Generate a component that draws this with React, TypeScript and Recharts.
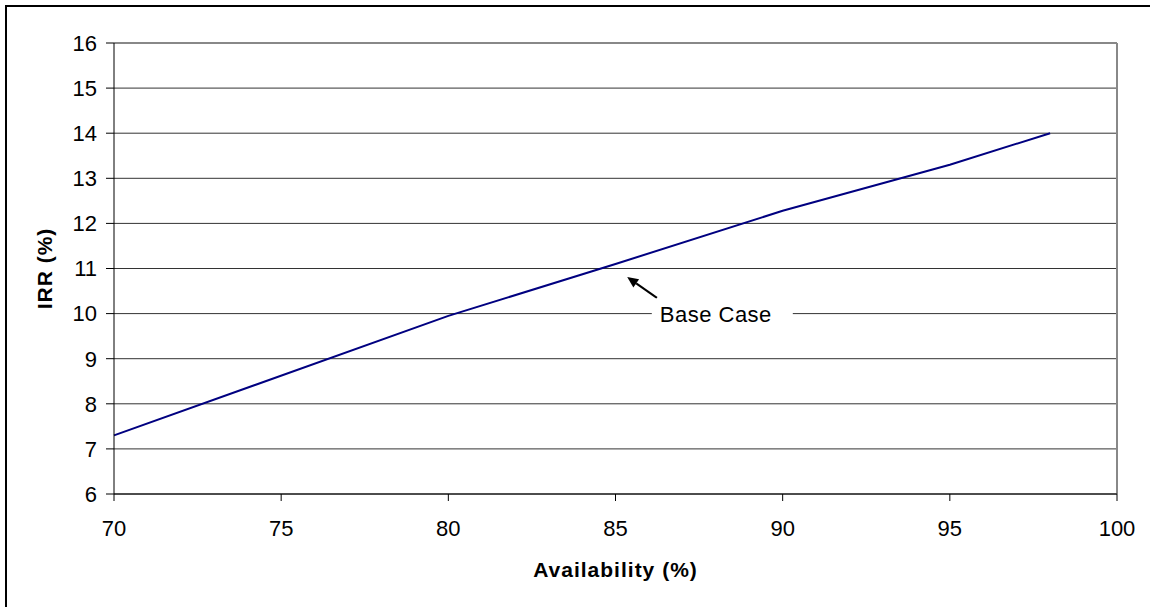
import { LineChart, Line, XAxis, YAxis, CartesianGrid, ReferenceLine, ReferenceDot, Label } from 'recharts'

const availability = [70, 80, 85, 90, 95, 98]
const irr = [7.3, 9.95, 11.1, 12.28, 13.3, 14.0]
const xTicks = [70, 75, 80, 85, 90, 95, 100]
const yTicks = [6, 7, 8, 9, 10, 11, 12, 13, 14, 15, 16]

// annotation: arrow from the label to the base case point
const arrowFrom = { x: 86.24, y: 10.35 }
const arrowTo = { x: 85.35, y: 10.81 }
const baseCaseLabel = { x: 88, y: 10, text: 'Base Case' }

const data = availability.map((a, i) => ({ availability: a, irr: irr[i] }))

const FONT = 'Arial, "Liberation Sans", sans-serif'

const Arrow = (props: any) => {
  const { x1, y1, x2, y2 } = props
  const ang = Math.atan2(y2 - y1, x2 - x1)
  const len = 11
  const w = 5
  const bx = x2 - len * Math.cos(ang)
  const by = y2 - len * Math.sin(ang)
  const px = -Math.sin(ang) * w
  const py = Math.cos(ang) * w
  return (
    <g>
      <line x1={x1} y1={y1} x2={bx} y2={by} stroke="#000" strokeWidth={2} />
      <polygon points={`${x2},${y2} ${bx + px},${by + py} ${bx - px},${by - py}`} fill="#000" />
    </g>
  )
}

const BaseCaseLabel = (props: any) => {
  const { cx, cy } = props
  return (
    <g>
      <rect x={cx - 64} y={cy - 15} width={141} height={30} fill="#fff" />
      <text x={cx} y={cy + 8} textAnchor="middle" fontSize={22} fontFamily={FONT} fill="#000" letterSpacing={0.5}>
        {baseCaseLabel.text}
      </text>
    </g>
  )
}

export default function App() {
  return (
    <div style={{ position: 'absolute', left: 0, top: 0, width: 1150, height: 607, overflow: 'hidden', background: '#fff' }}>
      <div style={{ position: 'absolute', left: 5, top: 5, width: 1200, height: 700, border: '2px solid #000' }} />
      <div style={{ position: 'absolute', left: 0, top: 0 }}>
        <LineChart width={1150} height={607} data={data} margin={{ top: 43, right: 33, left: 0, bottom: 73 }}>
          <CartesianGrid vertical={false} stroke="#333" strokeWidth={1} />
          <XAxis
            dataKey="availability"
            type="number"
            domain={[70, 100]}
            ticks={xTicks}
            height={40}
            tickSize={7}
            tickMargin={19}
            stroke="#000"
            tick={{ fill: '#000', fontSize: 22, fontFamily: FONT }}
          >
            <Label value="Availability (%)" position="bottom" offset={28} style={{ fontSize: 21, fontWeight: 'bold', fontFamily: FONT, fill: '#000', letterSpacing: 1 }} />
          </XAxis>
          <YAxis
            type="number"
            domain={[6, 16]}
            ticks={yTicks}
            width={114}
            tickSize={8}
            tickMargin={9}
            stroke="#000"
            tick={{ fill: '#000', fontSize: 22, fontFamily: FONT }}
          >
            <Label value="IRR (%)" angle={-90} position="insideLeft" offset={45} style={{ textAnchor: 'middle', fontSize: 21, fontWeight: 'bold', fontFamily: FONT, fill: '#000', letterSpacing: 1 }} />
          </YAxis>
          <ReferenceLine y={16} stroke="#888" strokeWidth={2} />
          <ReferenceLine x={100} stroke="#888" strokeWidth={2} />
          <ReferenceDot x={baseCaseLabel.x} y={baseCaseLabel.y} r={0} shape={BaseCaseLabel} />
          <ReferenceLine segment={[arrowFrom, arrowTo]} shape={Arrow} />
          <Line type="linear" dataKey="irr" stroke="#000080" strokeWidth={2} dot={false} isAnimationActive={false} />
        </LineChart>
      </div>
    </div>
  )
}
